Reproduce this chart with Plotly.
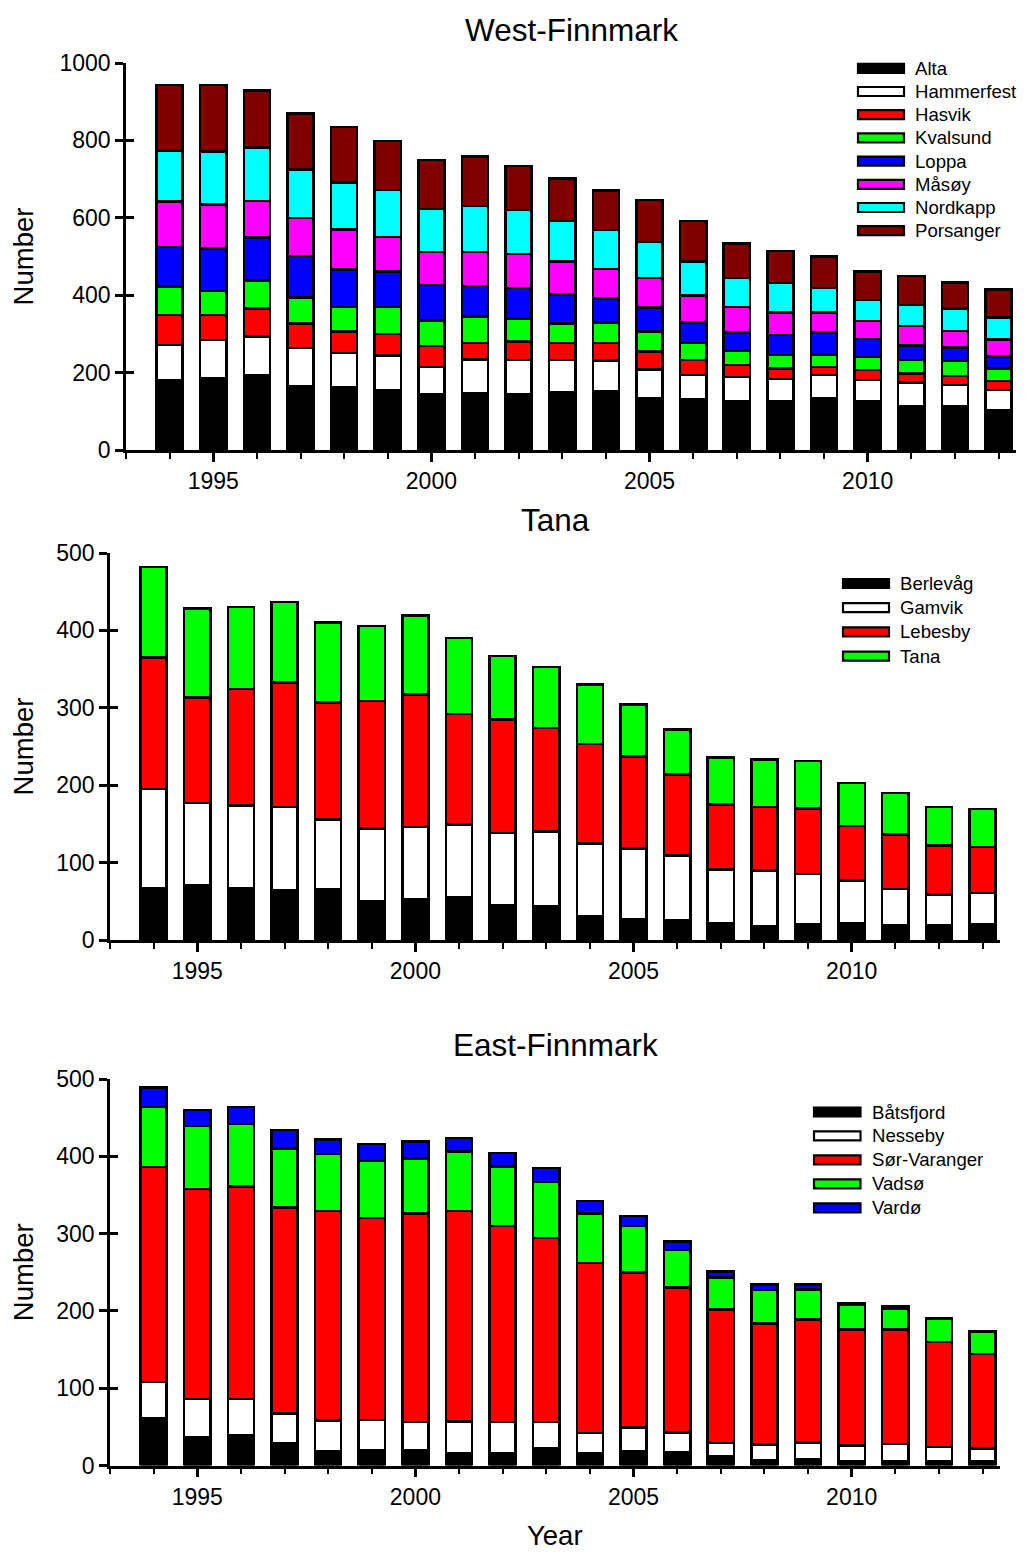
import plotly.graph_objects as go

years = list(range(1994, 2014))

# West-Finnmark
alta       = [179,185,194,165,161,155,144,146,145,148,151,134,131,125,125,133,125,114,114,103]
hammerfest = [92,99,99,98,90,89,71,88,88,85,80,74,63,64,58,61,56,60,54,52]
hasvik     = [78,65,73,64,55,56,54,43,47,43,46,46,39,31,28,21,26,24,23,23]
kvalsund   = [73,62,72,67,64,69,65,68,58,51,53,52,44,36,34,32,33,35,39,33]
loppa      = [102,110,111,107,97,92,92,79,81,75,62,62,53,48,52,57,47,37,35,30]
masoy      = [118,114,95,99,103,89,86,88,87,85,76,76,69,65,58,51,46,50,42,45]
nordkapp   = [130,136,138,125,121,122,111,119,114,105,100,94,88,76,76,64,55,55,59,56]
porsanger  = [171,172,147,145,143,127,126,127,114,110,102,108,105,89,83,81,73,75,67,73]

# Tana
berlevag = [67,71,67,64,65,50,53,55,45,43,31,27,26,22,18,21,22,19,19,20]
gamvik   = [128,106,107,108,91,94,93,94,93,97,94,91,83,69,72,64,55,47,40,41]
lebesby  = [170,136,150,161,151,165,171,143,147,134,128,119,105,84,82,85,70,70,63,59]
tana     = [117,115,106,104,103,97,102,98,82,79,77,67,58,61,61,61,56,54,50,49]

# East-Finnmark
batsfjord    = [61,36,39,29,19,20,20,16,16,22,16,18,17,12,7,8,5,5,5,5]
nesseby      = [47,50,47,38,39,39,36,41,40,34,26,31,26,17,20,22,21,23,19,17]
sor_varanger = [278,272,275,267,271,261,270,272,254,238,220,201,187,173,157,159,150,148,136,122]
vadso        = [78,81,81,76,74,74,71,77,77,73,64,60,49,41,43,39,32,27,30,29]
vardo        = [25,21,22,24,19,22,22,18,17,18,16,13,11,8,7,6,2,3,1,1]

west_names = ["Alta", "Hammerfest", "Hasvik", "Kvalsund", "Loppa", "Måsøy", "Nordkapp", "Porsanger"]
west_values = [alta, hammerfest, hasvik, kvalsund, loppa, masoy, nordkapp, porsanger]
west_colors = ["#000000", "#FFFFFF", "#FF0000", "#00FF00", "#0000FF", "#FF00FF", "#00FFFF", "#800000"]

tana_names = ["Berlevåg", "Gamvik", "Lebesby", "Tana"]
tana_values = [berlevag, gamvik, lebesby, tana]
tana_colors = ["#000000", "#FFFFFF", "#FF0000", "#00FF00"]

east_names = ["Båtsfjord", "Nesseby", "Sør-Varanger", "Vadsø", "Vardø"]
east_values = [batsfjord, nesseby, sor_varanger, vadso, vardo]
east_colors = ["#000000", "#FFFFFF", "#FF0000", "#00FF00", "#0000FF"]

# page body has an 8px margin; figure starts at (8, 8) and runs to the window edge
OFF = 8
W, H = 1026 - OFF, 1554 - OFF
FONT = "Arial, Liberation Sans, sans-serif"

def px_x(p):
    return (p - OFF) / W

def px_y(p):
    return 1 - (p - OFF) / H

fig = go.Figure()

panels = [
    dict(names=west_names, values=west_values, colors=west_colors, xa="x", ya="y", yo="y4"),
    dict(names=tana_names, values=tana_values, colors=tana_colors, xa="x2", ya="y2", yo="y5"),
    dict(names=east_names, values=east_values, colors=east_colors, xa="x3", ya="y3", yo="y6"),
]

for p in panels:
    for name, vals, col in zip(p["names"], p["values"], p["colors"]):
        fig.add_trace(go.Bar(
            x=years, y=vals, name=name, xaxis=p["xa"], yaxis=p["ya"],
            marker=dict(color=col, line=dict(color="black", width=2.5)),
            width=0.6, showlegend=False,
        ))
    # empty trace so the overlay (inside-tick) axis is drawn
    fig.add_trace(go.Scatter(x=[], y=[], xaxis=p["xa"], yaxis=p["yo"], showlegend=False))

def xaxis(domain, anchor):
    return dict(
        domain=domain, anchor=anchor, range=[1993, 2013.4], automargin=False,
        tickmode="linear", tick0=1995, dtick=5,
        ticks="outside", ticklen=9, tickwidth=2.5, tickcolor="black",
        showline=True, linewidth=2.5, linecolor="black",
        showgrid=False, zeroline=False,
        tickfont=dict(family=FONT, size=23, color="black"),
        minor=dict(tick0=1993, dtick=1, ticks="outside", ticklen=6, tickwidth=2, tickcolor="black", showgrid=False),
    )

def yaxis(domain, anchor, ymax, dtick):
    return dict(
        domain=domain, anchor=anchor, range=[0, ymax], automargin=False,
        tickmode="linear", tick0=0, dtick=dtick,
        ticks="outside", ticklen=8, tickwidth=2.5, tickcolor="black",
        showline=True, linewidth=2.5, linecolor="black",
        showgrid=False, zeroline=False,
        tickfont=dict(family=FONT, size=23, color="black"),
        title=dict(text="Number", font=dict(family=FONT, size=27.5, color="black"), standoff=20),
    )

def yoverlay(over, anchor, ymax, dtick):
    return dict(
        overlaying=over, anchor=anchor, range=[0, ymax], automargin=False,
        tickmode="linear", tick0=0, dtick=dtick,
        ticks="inside", ticklen=8, tickwidth=2.5, tickcolor="black",
        showticklabels=False, showline=False, showgrid=False, zeroline=False,
    )

d1x = [px_x(126), px_x(1016)]
d23x = [px_x(110), px_x(1000)]
d1y = [px_y(450), px_y(63)]
d2y = [px_y(940), px_y(553)]
d3y = [px_y(1465.5), px_y(1079)]

fig.update_layout(
    width=W, height=H,
    margin=dict(l=0, r=0, t=0, b=0, pad=0, autoexpand=False),
    paper_bgcolor="white", plot_bgcolor="white",
    barmode="stack", bargap=0.4,
    font=dict(family=FONT, color="black"),
    xaxis=xaxis(d1x, "y"),
    yaxis=yaxis(d1y, "x", 1000, 200),
    xaxis2=xaxis(d23x, "y2"),
    yaxis2=yaxis(d2y, "x2", 500, 100),
    xaxis3=xaxis(d23x, "y3"),
    yaxis3=yaxis(d3y, "x3", 500, 100),
    yaxis4=yoverlay("y", "x", 1000, 200),
    yaxis5=yoverlay("y2", "x2", 500, 100),
    yaxis6=yoverlay("y3", "x3", 500, 100),
)

# Panel titles
titles = [("West-Finnmark", (126 + 1016) / 2, 30), ("Tana", 555, 520), ("East-Finnmark", 555, 1045)]
for text, cx, cy in titles:
    fig.add_annotation(text=text, x=px_x(cx), y=px_y(cy), xref="paper", yref="paper",
                       showarrow=False, xanchor="center", yanchor="middle",
                       font=dict(family=FONT, size=31.5, color="black"))

# x-axis title of the bottom panel (kept inside the page)
fig.add_annotation(text="Year", x=px_x(555), y=px_y(1553), xref="paper", yref="paper",
                   showarrow=False, xanchor="center", yanchor="bottom",
                   font=dict(family=FONT, size=27.5, color="black"))

# Legends (swatch + label), one per panel
legends = [
    (west_names, west_colors, 858, 904, 913, 68.3, 23.2),
    (tana_names, tana_colors, 843, 889, 898, 583.5, 24.2),
    (east_names, east_colors, 814, 860.5, 870, 1112, 23.95),
]
for names, colors, sx0, sx1, tx, cy0, step in legends:
    for i, (n, c) in enumerate(zip(names, colors)):
        cy = cy0 + step * i
        fig.add_shape(type="rect", xref="paper", yref="paper",
                      x0=px_x(sx0), x1=px_x(sx1), y0=px_y(cy + 4.5), y1=px_y(cy - 4.5),
                      fillcolor=c, line=dict(color="black", width=2.2))
        fig.add_annotation(text=n, x=px_x(tx), y=px_y(cy), xref="paper", yref="paper",
                           showarrow=False, xanchor="left", yanchor="middle",
                           font=dict(family=FONT, size=18.6, color="black"))

fig.write_html("out.html")
